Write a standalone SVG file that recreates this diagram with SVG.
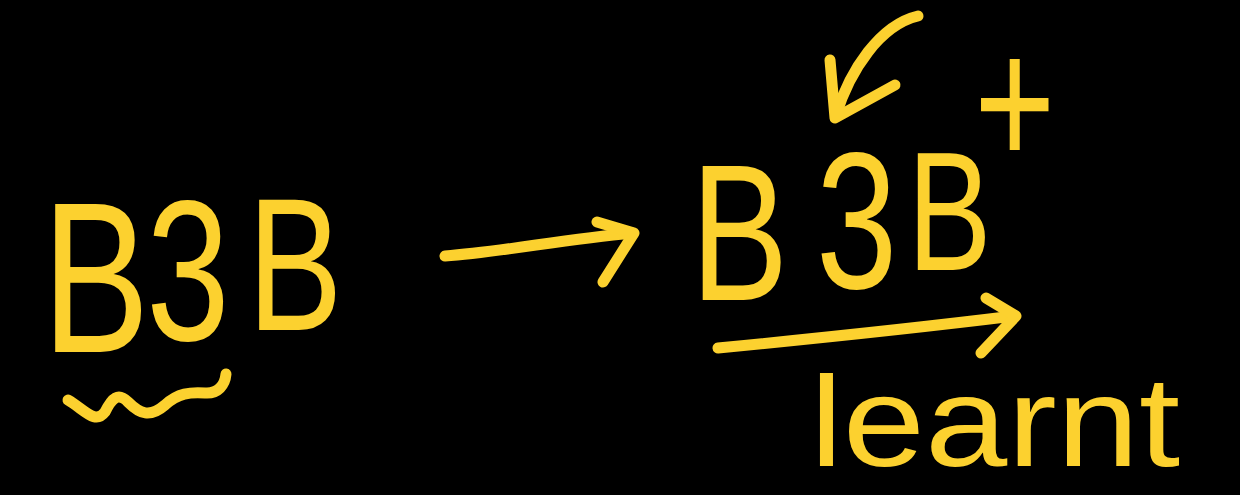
<svg xmlns="http://www.w3.org/2000/svg" width="1240" height="495" viewBox="0 0 1240 495">
<style>
.t{font-family:"Liberation Sans",Arial,sans-serif;fill:#FCD12F}
.s{fill:none;stroke:#FCD12F;stroke-width:11;stroke-linecap:round;stroke-linejoin:round}
</style>
<rect width="1240" height="495" fill="#000"/>
<g id="left-b3b">
<text class="t" transform="scale(0.75,1)"><tspan x="56" y="352" font-size="215">B</tspan><tspan x="195" y="340" font-size="200">3</tspan><tspan x="330" y="330" font-size="190">B</tspan></text>
<path class="s" d="M68,400 C85,410 95,425 105,412 C112,398 118,392 128,402 C140,414 150,418 165,405 C178,393 190,392 205,393 C218,394 225,385 226,374"/>
</g>
<g id="right-b3b">
<text class="t" transform="scale(0.75,1)"><tspan x="921" y="300" font-size="195">B</tspan><tspan x="1088" y="288" font-size="195">3</tspan><tspan x="1210" y="270" font-size="168">B</tspan><tspan x="1299" y="166" font-size="185">+</tspan></text>
</g>
<g id="learnt">
<text class="t" x="810" y="466" font-size="128" textLength="370" lengthAdjust="spacingAndGlyphs">learnt</text>
</g>
<g id="connectors">
<path class="s" d="M445,256 C500,252 560,240 632,233"/>
<path class="s" d="M597,222 L634,233 L603,282"/>
<path class="s" d="M918,16 C880,25 850,70 836,115"/>
<path class="s" d="M830,60 L835,118 L895,85"/>
<path class="s" d="M718,348 C800,340 900,330 1014,316"/>
<path class="s" d="M986,298 L1016,316 L981,353"/>
</g>
</svg>
